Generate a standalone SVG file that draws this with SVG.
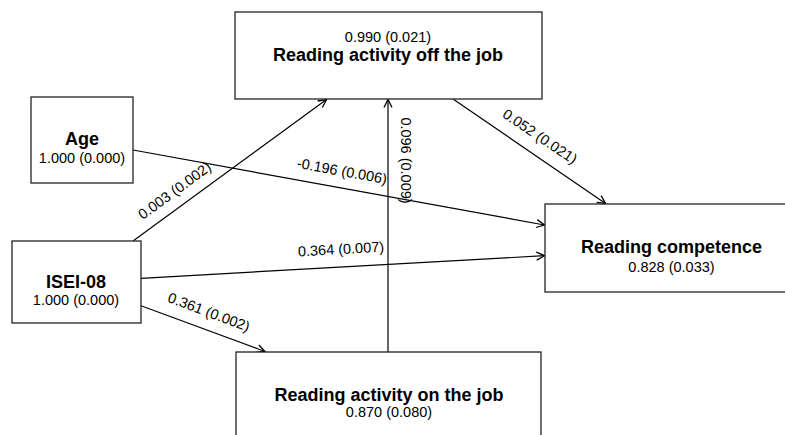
<svg xmlns="http://www.w3.org/2000/svg" width="785" height="435" viewBox="0 0 785 435">
<style>
.box{fill:#fff;stroke:#222;stroke-width:1.3}
.t{font-family:"Liberation Sans",Arial,sans-serif;fill:#000;text-anchor:middle}
.b{font-size:18px;font-weight:bold}
.n{font-size:14.5px}
.e{stroke:#000;stroke-width:1.2;fill:none;marker-end:url(#arr)}
</style>
<defs>
<marker id="arr" markerUnits="userSpaceOnUse" markerWidth="12" markerHeight="12" viewBox="-10 -6 12 12" refX="0" refY="0" orient="auto">
<path d="M-8,-4 L0,0 L-8,4" fill="none" stroke="#000" stroke-width="1.3"/>
</marker>
</defs>
<rect width="785" height="435" fill="#fff"/>
<g id="connectors">
<line class="e" x1="133" y1="241" x2="326.5" y2="99.5"/>
<line class="e" x1="388" y1="352" x2="388" y2="99.5"/>
<line class="e" x1="453" y1="99" x2="605.5" y2="203.5"/>
<line class="e" x1="133" y1="150" x2="544.5" y2="225"/>
<line class="e" x1="141" y1="278.3" x2="544.5" y2="255.7"/>
<line class="e" x1="141" y1="305.7" x2="265" y2="351.5"/>
<g class="t n">
<text transform="translate(184,203.5) rotate(-36.2)" y="-11">0.003 (0.002)</text>
<text transform="translate(401,160.5) rotate(90)">0.096 (0.009)</text>
<text transform="translate(530,151.3) rotate(34)" y="-12.8">0.052 (0.021)</text>
<text transform="translate(339,187.4) rotate(10.3)" y="-11.7">-0.196 (0.006)</text>
<text transform="translate(342,267) rotate(-3.2)" y="-13">0.364 (0.007)</text>
<text transform="translate(202.7,328.7) rotate(20.6)" y="-12.8">0.361 (0.002)</text>
</g>
</g>
<g id="off-job">
<rect class="box" x="235" y="12" width="307" height="87"/>
<text class="t n" x="388" y="42">0.990 (0.021)</text>
<text class="t b" x="388" y="61">Reading activity off the job</text>
</g>
<g id="age">
<rect class="box" x="31" y="97" width="102" height="86"/>
<text class="t b" x="82" y="145">Age</text>
<text class="t n" x="82" y="162.7">1.000 (0.000)</text>
</g>
<g id="isei">
<rect class="box" x="12" y="241" width="129" height="82"/>
<text class="t b" x="76" y="288">ISEI-08</text>
<text class="t n" x="76" y="305">1.000 (0.000)</text>
</g>
<g id="on-job">
<rect class="box" x="236" y="352" width="305" height="100"/>
<text class="t b" x="389" y="400.7">Reading activity on the job</text>
<text class="t n" x="389" y="417">0.870 (0.080)</text>
</g>
<g id="competence">
<rect class="box" x="545" y="204" width="253" height="88"/>
<text class="t b" x="671.5" y="253.3">Reading competence</text>
<text class="t n" x="671.5" y="271.7">0.828 (0.033)</text>
</g>
</svg>
